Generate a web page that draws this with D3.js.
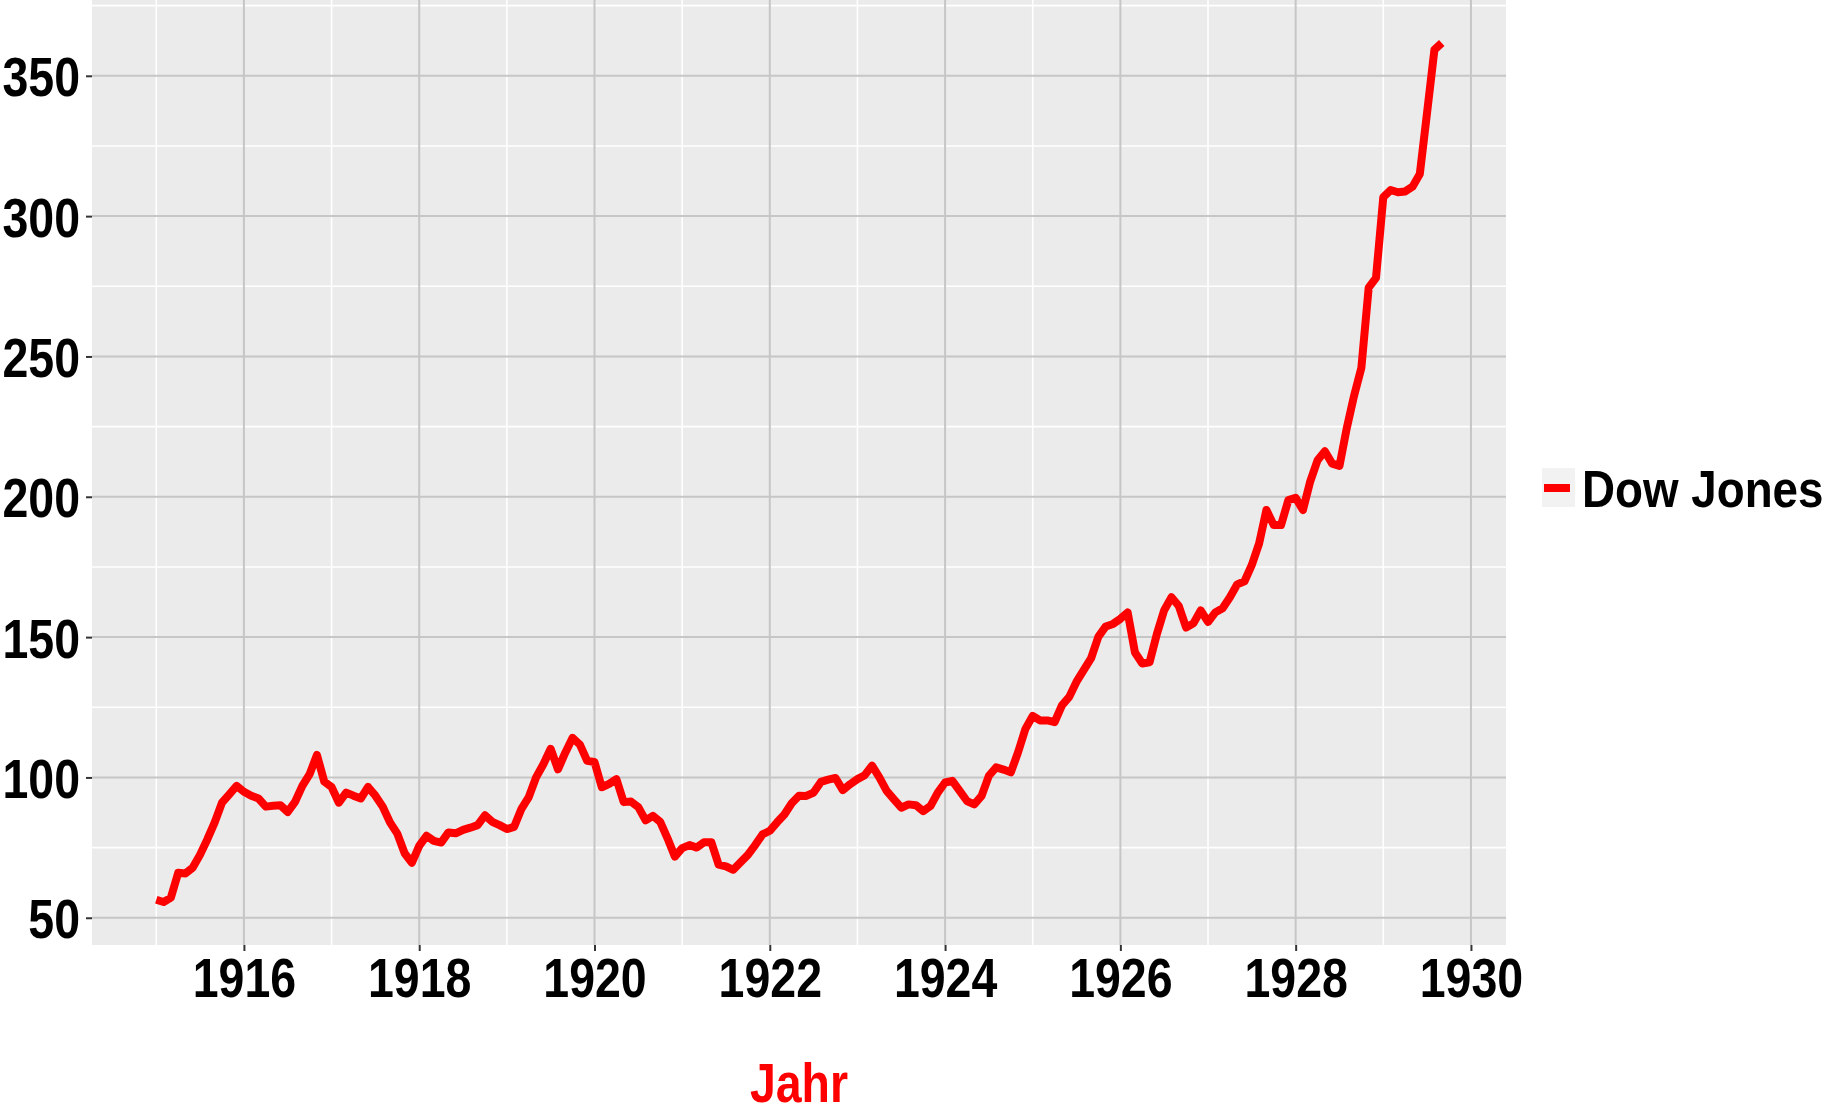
<!DOCTYPE html>
<html>
<head>
<meta charset="utf-8">
<script src="https://cdn.jsdelivr.net/npm/d3@7"></script>
<style>
  body { margin: 0; background: white; }
  text { font-family: 'Liberation Sans', Arial, sans-serif; font-weight: bold; }
</style>
</head>
<body>
<div id="chart"></div>
<script>
// monthly values, Jan 1915 .. Sep 1929
var firstYear = 1915;
var dowJones = [
  56.4, 55.6, 57.2, 66.0, 65.8, 67.9, 72.5, 78.0, 84.0, 91.0, 94.0, 97.0,   // 1915
  94.9, 93.5, 92.5, 89.6, 89.9, 90.1, 87.7, 91.3, 97.0, 101.2, 108.0, 98.5, // 1916
  96.6, 91.0, 94.6, 93.5, 92.5, 96.6, 93.5, 89.6, 84.0, 80.0, 73.0, 69.6,   // 1917
  75.6, 79.2, 77.4, 76.8, 80.4, 80.1, 81.3, 82.1, 83.0, 86.5, 84.2, 83.0,   // 1918
  81.6, 82.4, 88.8, 93.0, 100.0, 104.7, 110.2, 102.9, 108.8, 114.1, 111.7, 105.9, // 1919
  105.5, 96.5, 97.7, 99.4, 91.2, 91.4, 89.4, 84.7, 86.3, 84.2, 78.3, 71.8,  // 1920
  74.8, 75.9, 75.0, 76.9, 76.9, 68.9, 68.3, 67.1, 69.8, 72.4, 75.9, 79.7,   // 1921
  81.0, 84.0, 86.8, 90.8, 93.5, 93.4, 94.6, 98.4, 99.2, 99.8, 95.5, 97.6,   // 1922
  99.4, 100.8, 104.2, 100.0, 95.2, 92.2, 89.2, 90.4, 90.1, 88.0, 89.8, 94.6, // 1923
  98.2, 98.8, 95.2, 91.6, 90.4, 93.4, 100.6, 103.6, 102.8, 101.8, 109.0, 117.3, // 1924
  121.9, 120.3, 120.3, 119.7, 125.7, 128.7, 134.1, 138.3, 142.5, 150.2, 153.8, 154.7, // 1925
  156.5, 158.8, 144.5, 140.6, 141.0, 151.1, 159.6, 164.2, 161.1, 153.4, 154.9, 159.5, // 1926
  155.4, 158.8, 160.3, 164.2, 168.8, 169.9, 175.7, 183.4, 195.3, 189.9, 189.9, 198.8, // 1927
  199.6, 195.3, 205.5, 213.0, 216.2, 211.8, 211.0, 224.5, 236.0, 246.0, 274.5, 278.0, // 1928
  306.8, 309.3, 308.5, 308.8, 310.5, 315.0, 337.0, 359.3, 361.7             // 1929
];
var yearTicks = [1916, 1918, 1920, 1922, 1924, 1926, 1928, 1930];
var yearMinor = [1915, 1917, 1919, 1921, 1923, 1925, 1927, 1929];
var valueTicks = [50, 100, 150, 200, 250, 300, 350];
var valueMinor = [75, 125, 175, 225, 275, 325, 375];
var seriesName = 'Dow Jones';
var xTitle = 'Jahr';

var data = dowJones.map(function(v, i) {
  return { t: firstYear + i / 12, v: v };
});

var margin = { top: 0, left: 92 };
var width = 1414, height = 945;
var squeeze = 0.83;

// ggplot style 5% expansion
var tExt = d3.extent(data, function(d) { return d.t; });
var vExt = d3.extent(data, function(d) { return d.v; });
var tPad = (tExt[1] - tExt[0]) * 0.05, vPad = (vExt[1] - vExt[0]) * 0.05;

var xS = d3.scaleLinear()
   .domain([tExt[0] - tPad, tExt[1] + tPad])
   .range([0, width]);
var yS = d3.scaleLinear()
   .domain([vExt[0] - vPad, vExt[1] + vPad])
   .range([height, 0]);

var svg = d3.select('#chart').append('svg')
   .attr('width', 1825)
   .attr('height', 1115);

var graph = svg.append('g')
   .attr('transform', 'translate(' + margin.left + ', ' + margin.top + ')');

graph.append('rect')
   .attr('width', width)
   .attr('height', height)
   .style('fill', '#ebebeb');

// minor grid (white)
graph.selectAll('.vminor').data(yearMinor).enter().append('line')
   .attr('x1', function(d) { return xS(d); }).attr('x2', function(d) { return xS(d); })
   .attr('y1', 0).attr('y2', height)
   .style('stroke', '#ffffff').style('stroke-width', 1.6);
graph.selectAll('.hminor').data(valueMinor).enter().append('line')
   .attr('y1', function(d) { return yS(d); }).attr('y2', function(d) { return yS(d); })
   .attr('x1', 0).attr('x2', width)
   .style('stroke', '#ffffff').style('stroke-width', 1.6);

// major grid (grey)
graph.selectAll('.vmajor').data(yearTicks).enter().append('line')
   .attr('x1', function(d) { return xS(d); }).attr('x2', function(d) { return xS(d); })
   .attr('y1', 0).attr('y2', height)
   .style('stroke', '#c6c6c6').style('stroke-width', 2);
graph.selectAll('.hmajor').data(valueTicks).enter().append('line')
   .attr('y1', function(d) { return yS(d); }).attr('y2', function(d) { return yS(d); })
   .attr('x1', 0).attr('x2', width)
   .style('stroke', '#c6c6c6').style('stroke-width', 2);

var line = d3.line()
   .x(function(d) { return xS(d.t); })
   .y(function(d) { return yS(d.v); });

graph.append('path')
   .datum(data)
   .attr('d', line)
   .style('fill', 'none')
   .style('stroke', '#ff0000')
   .style('stroke-width', 8)
   .style('stroke-linejoin', 'round');

// axes
var xAxis = graph.append('g')
   .attr('transform', 'translate(0, ' + height + ')')
   .call(d3.axisBottom(xS).tickValues(yearTicks).tickSize(6).tickPadding(6).tickFormat(d3.format('d')));
var yAxis = graph.append('g')
   .call(d3.axisLeft(yS).tickValues(valueTicks).tickSize(6).tickPadding(6));

[xAxis, yAxis].forEach(function(ax) {
  ax.select('.domain').remove();
  ax.selectAll('.tick line').style('stroke', '#333333').style('stroke-width', 2);
  ax.selectAll('.tick text')
     .style('fill', '#000000')
     .style('font-size', '56px')
     .style('font-family', "'Liberation Sans', Arial, sans-serif")
     .style('font-weight', 'bold');
});
xAxis.selectAll('.tick text')
   .attr('transform', 'scale(' + squeeze + ',1)');
yAxis.selectAll('.tick text')
   .attr('x', null)
   .attr('dy', '0.36em')
   .attr('transform', 'translate(-12,0) scale(' + squeeze + ',1)');

// axis title
svg.append('text')
   .attr('transform', 'translate(' + (margin.left + width / 2) + ', 1102) scale(' + squeeze + ',1)')
   .attr('text-anchor', 'middle')
   .style('font-size', '56px')
   .style('fill', '#ff0000')
   .text(xTitle);

// legend
var legend = svg.append('g').attr('transform', 'translate(1542, 468)');
legend.append('rect')
   .attr('width', 33).attr('height', 39)
   .style('fill', '#f2f2f2');
legend.append('line')
   .attr('x1', 2).attr('x2', 28).attr('y1', 20).attr('y2', 20)
   .style('stroke', '#ff0000').style('stroke-width', 8);
legend.append('text')
   .attr('transform', 'translate(40, 39) scale(0.88,1)')
   .style('font-size', '52px')
   .style('fill', '#000000')
   .text(seriesName);
</script>
</body>
</html>
